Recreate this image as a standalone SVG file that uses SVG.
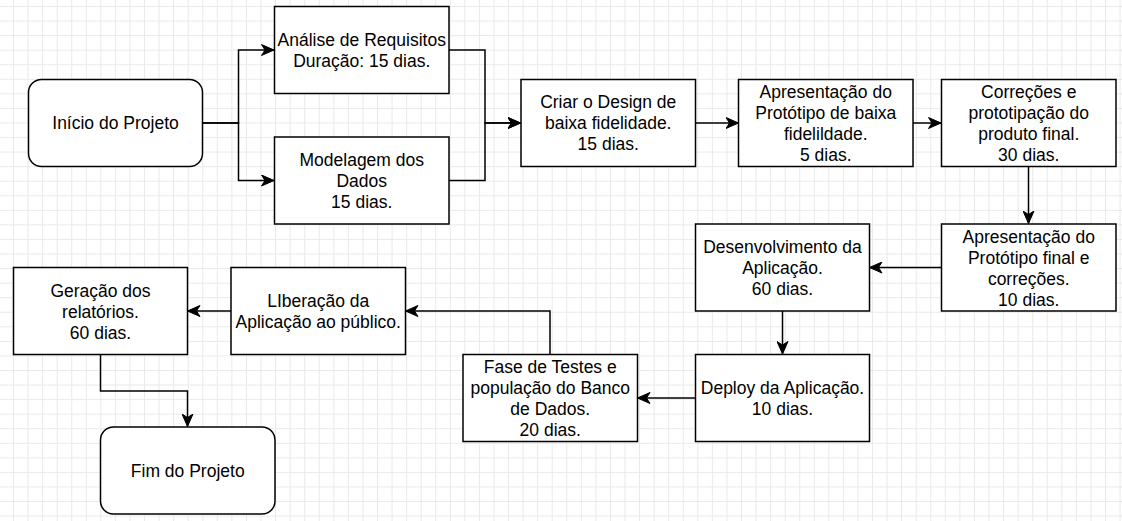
<svg xmlns="http://www.w3.org/2000/svg" width="1122" height="521" viewBox="0 0 1122 521">
  <style>
    .box { fill: #ffffff; stroke: #000000; stroke-width: 1.5; }
    .lbl { font-family: "Liberation Sans", Arial, sans-serif; font-size: 17.5px; fill: #000000; text-anchor: middle; }
    .edge { fill: none; stroke: #000000; stroke-width: 1.5; marker-end: url(#arrow); }
  </style>
  <defs>
    <pattern id="grid" patternUnits="userSpaceOnUse" x="13" y="6" width="14.56" height="14.56">
      <rect x="0" y="0" width="1" height="14.56" fill="#e9e9e9"/>
      <rect x="0" y="0" width="14.56" height="1" fill="#e9e9e9"/>
    </pattern>
    <marker id="arrow" markerUnits="userSpaceOnUse" markerWidth="14" markerHeight="12" refX="13" refY="6" orient="auto">
      <path d="M0.5,0.5 L13,6 L0.5,11.5 L4,6 Z" fill="#000000" stroke="#000000" stroke-width="1"/>
    </marker>
  </defs>
  <rect x="0" y="0" width="1122" height="521" fill="#ffffff"/>
  <rect x="0" y="0" width="1122" height="521" fill="url(#grid)"/>

  <g id="connectors">
    <path class="edge" d="M202.5,123 H238.5 V50 H274"/>
    <path class="edge" d="M202.5,123 H238.5 V180.5 H274"/>
    <path class="edge" d="M449,50 H485 V123 H520.5"/>
    <path class="edge" d="M449,180.5 H485 V123 H520.5"/>
    <path class="edge" d="M695.5,123 H738.5"/>
    <path class="edge" d="M913,123 H941"/>
    <path class="edge" d="M1028.5,166.5 V223.5"/>
    <path class="edge" d="M941.5,267.5 H869.5"/>
    <path class="edge" d="M782.5,311 V354"/>
    <path class="edge" d="M695.5,398 H637.5"/>
    <path class="edge" d="M550,354.5 V311 H405.5"/>
    <path class="edge" d="M231,311 H187.5"/>
    <path class="edge" d="M100.5,354.5 V391 H187.5 V426.5"/>
  </g>

  <g id="inicio">
    <rect class="box" x="28.5" y="79.5" width="174" height="87" rx="13" ry="13"/>
    <text class="lbl" x="115.5" y="129">Início do Projeto</text>
  </g>
  <g id="analise">
    <rect class="box" x="274.5" y="6.5" width="174.5" height="87"/>
    <text class="lbl" x="361.75" y="45.5">Análise de Requisitos</text>
    <text class="lbl" x="361.75" y="66.5">Duração: 15 dias.</text>
  </g>
  <g id="modelagem">
    <rect class="box" x="274.5" y="137" width="174.5" height="87"/>
    <text class="lbl" x="361.75" y="165.5">Modelagem dos</text>
    <text class="lbl" x="361.75" y="186.5">Dados</text>
    <text class="lbl" x="361.75" y="207.5">15 dias.</text>
  </g>
  <g id="criar">
    <rect class="box" x="521" y="79.5" width="174.5" height="87"/>
    <text class="lbl" x="608.25" y="108">Criar o Design de</text>
    <text class="lbl" x="608.25" y="129">baixa fidelidade.</text>
    <text class="lbl" x="608.25" y="150">15 dias.</text>
  </g>
  <g id="apresentacao-baixa">
    <rect class="box" x="738.5" y="79.5" width="174.5" height="87"/>
    <text class="lbl" x="825.75" y="97.5">Apresentação do</text>
    <text class="lbl" x="825.75" y="118.5">Protótipo de baixa</text>
    <text class="lbl" x="825.75" y="139.5">fidelildade.</text>
    <text class="lbl" x="825.75" y="160.5">5 dias.</text>
  </g>
  <g id="correcoes">
    <rect class="box" x="941.5" y="79.5" width="174.5" height="87"/>
    <text class="lbl" x="1028.75" y="97.5">Correções e</text>
    <text class="lbl" x="1028.75" y="118.5">prototipação do</text>
    <text class="lbl" x="1028.75" y="139.5">produto final.</text>
    <text class="lbl" x="1028.75" y="160.5">30 dias.</text>
  </g>
  <g id="apresentacao-final">
    <rect class="box" x="941.5" y="224" width="174.5" height="87"/>
    <text class="lbl" x="1028.75" y="242.5">Apresentação do</text>
    <text class="lbl" x="1028.75" y="263.5">Protótipo final e</text>
    <text class="lbl" x="1028.75" y="284.5">correções.</text>
    <text class="lbl" x="1028.75" y="305.5">10 dias.</text>
  </g>
  <g id="desenvolvimento">
    <rect class="box" x="695.5" y="224" width="174" height="87"/>
    <text class="lbl" x="782.5" y="252.5">Desenvolvimento da</text>
    <text class="lbl" x="782.5" y="273.5">Aplicação.</text>
    <text class="lbl" x="782.5" y="294.5">60 dias.</text>
  </g>
  <g id="deploy">
    <rect class="box" x="695.5" y="354.5" width="174" height="87"/>
    <text class="lbl" x="782.5" y="393.5">Deploy da Aplicação.</text>
    <text class="lbl" x="782.5" y="414.5">10 dias.</text>
  </g>
  <g id="testes">
    <rect class="box" x="463" y="354.5" width="174.5" height="87"/>
    <text class="lbl" x="550.25" y="372.5">Fase de Testes e</text>
    <text class="lbl" x="550.25" y="393.5">população do Banco</text>
    <text class="lbl" x="550.25" y="414.5">de Dados.</text>
    <text class="lbl" x="550.25" y="435.5">20 dias.</text>
  </g>
  <g id="liberacao">
    <rect class="box" x="231" y="267.5" width="174.5" height="87"/>
    <text class="lbl" x="318.25" y="306.5">LIberação da</text>
    <text class="lbl" x="318.25" y="327.5">Aplicação ao público.</text>
  </g>
  <g id="geracao">
    <rect class="box" x="13.5" y="267.5" width="174" height="87"/>
    <text class="lbl" x="100.5" y="296.5">Geração dos</text>
    <text class="lbl" x="100.5" y="317.5">relatórios.</text>
    <text class="lbl" x="100.5" y="338.5">60 dias.</text>
  </g>
  <g id="fim">
    <rect class="box" x="100.5" y="427" width="174.5" height="87" rx="13" ry="13"/>
    <text class="lbl" x="187.75" y="476.5">Fim do Projeto</text>
  </g>
</svg>
